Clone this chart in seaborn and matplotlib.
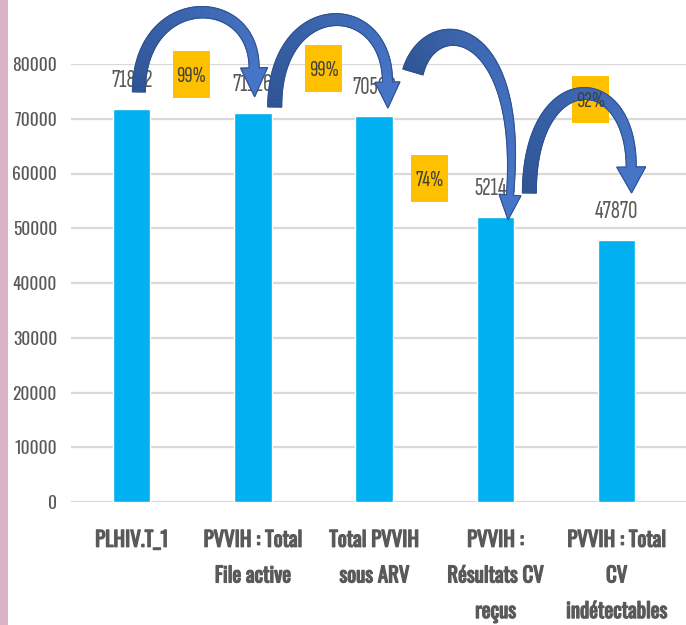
import numpy as np
import pandas as pd
import seaborn as sns
import matplotlib
matplotlib.use("Agg")
import matplotlib.pyplot as plt
import matplotlib.patheffects as pe
from matplotlib.patches import Polygon, Rectangle
from matplotlib.transforms import IdentityTransform
from matplotlib.textpath import TextPath
from matplotlib.font_manager import FontProperties

# ---- data ----
categories = [
    "PLHIV.T_1",
    "PVVIH : Total\nFile active",
    "Total PVVIH\nsous ARV",
    "PVVIH :\nRésultats CV\nreçus",
    "PVVIH : Total\nCV\nindétectables",
]
values = [71842, 71126, 70509, 52146, 47870]
y_ticks = [0, 10000, 20000, 30000, 40000, 50000, 60000, 70000, 80000]

# ---- style ----
sns.set_theme(style="white")
AXIS_FONT = ["Oswald", "Liberation Sans"]
LABEL_FONT = ["Sofia Sans Extra Condensed", "PT Sans Narrow", "Liberation Sans"]
plt.rcParams["font.family"] = AXIS_FONT
TEXT_GREY = "#595959"
BAR_BLUE = "#00B0F0"
BOX_GOLD = "#FFC000"
GRID_GREY = "#D9D9D9"

W, H = 686, 625
fig = plt.figure(figsize=(W / 100, H / 100), dpi=100)
fig.patch.set_facecolor("white")


def fit_size(text, target_px):
    """Font size (pt) at which `text` in LABEL_FONT is target_px wide."""
    w = TextPath((0, 0), text, size=100, prop=FontProperties(family=LABEL_FONT)).get_extents().width
    return 100 * target_px / w * 72 / 100


# left accent strip
fig.add_artist(Rectangle((0, 0), 8 / W, 1, transform=fig.transFigure,
                         facecolor="#DBB1C8", edgecolor="none"))

ax = fig.add_axes([71 / W, 123 / H, 616 / W, 438 / H])
df = pd.DataFrame({"cat": categories, "value": values})
sns.barplot(data=df, x="cat", y="value", color=BAR_BLUE, saturation=1,
            width=0.31, ax=ax, zorder=2)

ax.set_xlim(-0.5, 4.58)
ax.set_ylim(0, 80000)
ax.set_yticks(y_ticks)
ax.set_yticklabels([str(t) for t in y_ticks])
ax.set_xlabel("")
ax.set_ylabel("")
for s in ax.spines.values():
    s.set_visible(False)
ax.yaxis.grid(True, color=GRID_GREY, linewidth=1.6, zorder=0)
ax.set_axisbelow(True)
ax.tick_params(axis="y", length=0, pad=10, labelsize=12.5, labelcolor=TEXT_GREY)
ax.tick_params(axis="x", length=0, pad=20, labelsize=15, labelcolor=TEXT_GREY)
for lab in ax.get_yticklabels():
    lab.set_fontfamily(AXIS_FONT)
for lab in ax.get_xticklabels():
    lab.set_fontfamily(AXIS_FONT)
    lab.set_fontweight("bold")
    lab.set_linespacing(1.92)
    lab.set_verticalalignment("top")
    lab.set_path_effects([pe.withStroke(linewidth=0.9, foreground=TEXT_GREY)])

# value labels above bars
val_size = fit_size("47870", 42)
for i, v in enumerate(values):
    ax.annotate(f"{v}", (i, v), xytext=(0, 15.5), textcoords="offset points",
                ha="center", va="baseline", fontsize=val_size, color=TEXT_GREY,
                family=LABEL_FONT, zorder=4)

# ---- step ratios shown in gold boxes between bars ----
ratios = [values[i + 1] / values[i] for i in range(len(values) - 1)]
box_centres = [(0.49, 78080), (1.586, 79180), (2.46, 59000), (3.785, 73430)]
box_w, box_h = 37, 47
pct_size = fit_size("99%", 28)
for (bx, by), r in zip(box_centres, ratios):
    cx, cy = ax.transData.transform((bx, by))
    fig.add_artist(Rectangle((cx - box_w / 2, cy - box_h / 2), box_w, box_h,
                             transform=IdentityTransform(), facecolor=BOX_GOLD,
                             edgecolor="none", zorder=5))
    fig.text(cx / W, cy / H, f"{r:.0%}", ha="center", va="center_baseline",
             fontsize=pct_size, color="#404040", family=LABEL_FONT, zorder=9)

# ---- curved arrows linking successive bars ----
arrows = [
    # control points (data coords), tail width, end width, head length, head width (px)
    ([(0.06, 74900), (0.06, 93500), (1.01, 93500), (1.01, 79300)], 13, 10, 29, 27),
    ([(1.18, 72150), (1.18, 92600), (2.11, 92600), (2.11, 76700)], 14, 10, 26, 25),
    ([(2.32, 78540), (2.46, 89860), (3.24, 88040), (3.12, 56070)], 21, 7, 25, 22),
    ([(3.28, 56440), (3.28, 79820), (4.12, 79820), (4.12, 61190)], 14, 10, 26, 29),
]
dark = np.array(matplotlib.colors.to_rgb("#2E5494"))
light = np.array(matplotlib.colors.to_rgb("#4674C6"))


def bezier(pts, t):
    p0, p1, p2, p3 = pts
    u = 1 - t
    return (u ** 3)[:, None] * p0 + (3 * u * u * t)[:, None] * p1 + \
        (3 * u * t * t)[:, None] * p2 + (t ** 3)[:, None] * p3


for ctrl, w0, w1, hl, hw in arrows:
    pts = ax.transData.transform(np.array(ctrl, dtype=float))
    t = np.linspace(0, 1, 80)
    c = bezier(pts, t)
    d = np.gradient(c, axis=0)
    d /= np.linalg.norm(d, axis=1)[:, None]
    nrm = np.column_stack([-d[:, 1], d[:, 0]])
    wid = (w0 + (w1 - w0) * t)[:, None] / 2
    left = c + nrm * wid
    right = c - nrm * wid
    for k in range(len(t) - 1):
        col = dark + (light - dark) * (t[k] ** 0.8)
        quad = [left[k], left[k + 1], right[k + 1], right[k]]
        fig.add_artist(Polygon(quad, closed=True, transform=IdentityTransform(),
                               facecolor=col, edgecolor=col, linewidth=0.6,
                               zorder=7))
    tip = c[-1] + d[-1] * hl
    hl_pt = c[-1] + nrm[-1] * hw / 2
    hr_pt = c[-1] - nrm[-1] * hw / 2
    fig.add_artist(Polygon([hl_pt, tip, hr_pt], closed=True,
                           transform=IdentityTransform(), facecolor=light,
                           edgecolor=light, linewidth=0.6, zorder=7))
    outline = np.vstack([left, [hl_pt, tip, hr_pt], right[::-1]])
    fig.add_artist(Polygon(outline, closed=True, transform=IdentityTransform(),
                           facecolor="none", edgecolor="#2F528F", linewidth=0.8,
                           zorder=8))

fig.savefig("out.png", dpi=100, facecolor="white")
